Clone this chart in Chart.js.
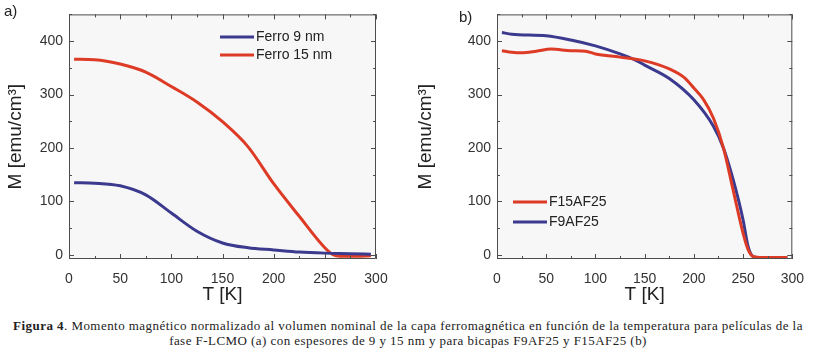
<!DOCTYPE html>
<html>
<head>
<meta charset="utf-8">
<script src="https://cdn.jsdelivr.net/npm/chart.js@4"></script>
<style>
  body { margin: 0; background: #fff; width: 816px; height: 354px; position: relative; overflow: hidden; }
  #wrapA { position: absolute; left: 0; top: 0; width: 410px; height: 310px; }
  #wrapB { position: absolute; left: 410px; top: 0; width: 406px; height: 310px; }
  .panel { position: absolute; font-family: "Liberation Sans", Arial, sans-serif; font-size: 15px; color: #222; }
  #caption { position: absolute; left: 0; top: 318px; width: 816px; text-align: center;
    font-family: "Liberation Serif", "Times New Roman", serif; font-size: 13px; letter-spacing: 0.45px; line-height: 15px; color: #222; }
</style>
</head>
<body>
<div id="wrapA"><canvas id="chartA" width="410" height="310"></canvas></div>
<div id="wrapB"><canvas id="chartB" width="406" height="310"></canvas></div>
<div class="panel" style="left:4px; top:2px;">a)</div>
<div class="panel" style="left:459px; top:8px;">b)</div>
<div id="caption"><b>Figura 4</b>. Momento magnético normalizado al volumen nominal de la capa ferromagnética en función de la temperatura para películas de la<br>fase F-LCMO (a) con espesores de 9 y 15 nm y para bicapas F9AF25 y F15AF25 (b)</div>
<script>
// panel a
var tFerro15 = [5, 25, 50, 75, 100, 125, 150, 175, 200, 225, 250, 258, 265, 280, 295];
var mFerro15 = [366, 365, 357, 342, 315, 286, 249, 202, 133, 72, 13, 0, -3, -3, -2];
var tFerro9 = [5, 25, 50, 75, 100, 125, 150, 175, 200, 225, 250, 275, 295];
var mFerro9 = [135, 134, 129, 112, 78, 44, 22, 13, 9, 5, 3, 2, 1];

// panel b
var tF15AF25 = [5, 15, 25, 40, 55, 75, 90, 100, 125, 150, 175, 190, 200, 210, 220, 230, 240, 250, 255, 260, 270, 295];
var mF15AF25 = [382, 379, 378, 381, 385, 382, 381, 376, 370, 363, 348, 332, 312, 290, 255, 200, 120, 40, 10, -3, -5, -5];
var tF9AF25 = [5, 15, 50, 75, 100, 125, 140, 150, 175, 200, 220, 230, 240, 250, 255, 260, 270, 295];
var mF9AF25 = [416, 413, 410, 402, 391, 376, 365, 355, 330, 290, 240, 200, 140, 65, 16, -3, -6, -6];

var xTicks = [0, 50, 100, 150, 200, 250, 300];
var yTicks = [0, 100, 200, 300, 400];

var RED = "#dd3b26";
var BLUE = "#3b3a8e";

function pts(xs, ys) {
  return xs.map(function (x, i) { return { x: x, y: ys[i] }; });
}

// plot background, frame, inward ticks and an inset legend
var framePlugin = {
  id: "frame",
  beforeDatasetsDraw: function (chart) {
    var a = chart.chartArea, c = chart.ctx;
    c.save();
    c.fillStyle = "#f7f7f7";
    c.fillRect(a.left, a.top, a.right - a.left, a.bottom - a.top);
    c.restore();
  },
  afterDraw: function (chart, args, opts) {
    var a = chart.chartArea, c = chart.ctx;
    var xs = chart.scales.x, ys = chart.scales.y;
    c.save();
    c.strokeStyle = "#4d4d4d";
    c.lineWidth = 1;
    c.beginPath();
    c.rect(a.left + 0.5, a.top + 0.5, a.right - a.left - 1, a.bottom - a.top - 1);
    for (var v = 0; v <= 300; v += 25) {
      var px = Math.round(xs.getPixelForValue(v)) + 0.5;
      var len = v % 50 === 0 ? 5 : 3;
      c.moveTo(px, a.bottom); c.lineTo(px, a.bottom - len);
      c.moveTo(px, a.top); c.lineTo(px, a.top + len);
    }
    for (var m = 0; m <= 450; m += 50) {
      var py = Math.round(ys.getPixelForValue(m)) + 0.5;
      var l2 = m % 100 === 0 ? 5 : 3;
      c.moveTo(a.left, py); c.lineTo(a.left + l2, py);
      c.moveTo(a.right, py); c.lineTo(a.right - l2, py);
    }
    c.stroke();
    // legend
    c.font = "14px 'Liberation Sans', Arial, sans-serif";
    c.textBaseline = "middle";
    opts.items.forEach(function (it, i) {
      var y = opts.y + i * opts.gap;
      c.strokeStyle = it.color;
      c.lineWidth = 3;
      c.beginPath();
      c.moveTo(opts.x, y); c.lineTo(opts.x + 34, y);
      c.stroke();
      c.fillStyle = "#222";
      c.fillText(it.label, opts.x + 36, y);
    });
    c.restore();
  }
};

function makeChart(id, datasets, legend, yAxisWidth, padRight) {
  return new Chart(document.getElementById(id), {
    type: "line",
    data: { datasets: datasets },
    plugins: [framePlugin],
    options: {
      responsive: false,
      animation: false,
      layout: { padding: { top: 13, right: padRight, left: 0, bottom: 0 } },
      elements: { point: { radius: 0 }, line: { borderWidth: 3, cubicInterpolationMode: "monotone" } },
      plugins: { legend: { display: false }, tooltip: { enabled: false }, frame: legend },
      scales: {
        x: {
          type: "linear", min: 0, max: 300,
          grid: { display: false, drawTicks: false },
          border: { display: false },
          afterBuildTicks: function (s) { s.ticks = xTicks.map(function (v) { return { value: v }; }); },
          afterFit: function (s) { s.height = 51; },
          ticks: { padding: 12, color: "#333", font: { family: "'Liberation Sans', Arial", size: 14 }, maxRotation: 0 },
          title: { display: true, text: "T [K]", color: "#222", padding: { top: 2 }, font: { family: "'Liberation Sans', Arial", size: 19 } }
        },
        y: {
          type: "linear", min: -8, max: 450,
          grid: { display: false, drawTicks: false },
          border: { display: false },
          afterBuildTicks: function (s) { s.ticks = yTicks.map(function (v) { return { value: v }; }); },
          afterFit: function (s) { s.width = yAxisWidth; },
          ticks: { padding: 6, color: "#333", font: { family: "'Liberation Sans', Arial", size: 14 } },
          title: { display: true, text: "M [emu/cm³]", color: "#222", padding: { bottom: 4 }, font: { family: "'Liberation Sans', Arial", size: 19 } }
        }
      }
    }
  });
}

makeChart("chartA", [
  { label: "Ferro 9 nm", data: pts(tFerro9, mFerro9), borderColor: BLUE },
  { label: "Ferro 15 nm", data: pts(tFerro15, mFerro15), borderColor: RED }
], { x: 220, y: 37, gap: 18, items: [
  { label: "Ferro 9 nm", color: BLUE }, { label: "Ferro 15 nm", color: RED }
] }, 69, 34);

makeChart("chartB", [
  { label: "F15AF25", data: pts(tF15AF25, mF15AF25), borderColor: RED },
  { label: "F9AF25", data: pts(tF9AF25, mF9AF25), borderColor: BLUE }
], { x: 103, y: 202, gap: 20, items: [
  { label: "F15AF25", color: RED }, { label: "F9AF25", color: BLUE }
] }, 87, 12);
</script>
</body>
</html>
